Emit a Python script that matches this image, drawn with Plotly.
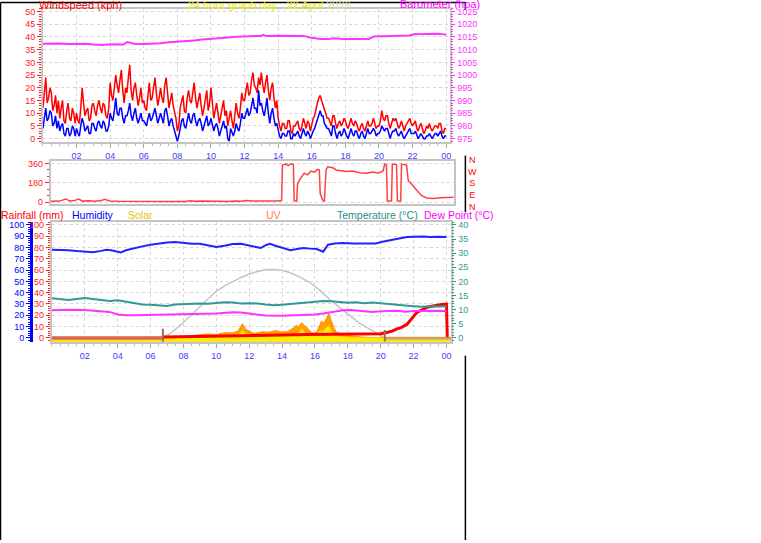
import plotly.graph_objects as go

W, H = 761, 543


def px(x):
    return x / W


def py(y):
    return 1 - y / H


# ---------------- data ----------------
hour_ticks = [2, 4, 6, 8, 10, 12, 14, 16, 18, 20, 22, 24]
hour_labels = ["02", "04", "06", "08", "10", "12", "14", "16", "18", "20", "22", "00"]

# wind speed, 5-minute samples (kph), one row per hour
gust_kph = [
    12, 18, 24, 14, 16, 20, 18, 11, 13, 17, 10, 15,
    8, 12, 15, 7, 6, 11, 14, 8, 7, 12, 10, 6,
    10, 7, 6, 12, 20, 14, 9, 11, 12, 7, 8, 13,
    14, 11, 9, 13, 15, 12, 10, 14, 13, 9, 8, 12,
    22, 17, 15, 20, 25, 21, 18, 23, 27, 19, 14, 20,
    18, 24, 29, 19, 15, 20, 22, 17, 13, 16, 20, 14,
    15, 12, 11, 17, 22, 15, 16, 20, 24, 18, 13, 16,
    20, 16, 14, 21, 24, 18, 12, 15, 18, 13, 10, 8,
    3, 5, 12, 15, 17, 11, 10, 16, 19, 15, 14, 18,
    22, 16, 12, 15, 18, 13, 9, 12, 15, 19, 11, 14,
    20, 14, 8, 11, 14, 10, 6, 9, 12, 15, 9, 11,
    5, 8, 11, 7, 4, 9, 14, 10, 8, 12, 18, 15,
    15, 19, 22, 17, 18, 23, 26, 21, 20, 18, 24, 21,
    26, 21, 18, 22, 25, 19, 15, 20, 22, 16, 12, 15,
    8, 5, 3, 6, 6, 4, 4, 7, 7, 3, 2, 5,
    5, 6, 7, 4, 3, 5, 8, 6, 4, 7, 6, 3,
    6, 8, 9, 12, 14, 16, 17, 15, 13, 11, 10, 8,
    8, 6, 5, 9, 9, 6, 4, 6, 7, 5, 6, 8,
    7, 5, 4, 6, 8, 6, 5, 7, 6, 4, 3, 5,
    6, 4, 3, 5, 7, 5, 5, 6, 8, 6, 4, 5,
    5, 7, 11, 8, 7, 9, 9, 6, 4, 6, 8, 7,
    8, 6, 4, 5, 7, 5, 3, 5, 6, 7, 8, 6,
    5, 6, 7, 4, 3, 5, 6, 4, 2, 3, 5, 4,
    6, 4, 3, 4, 5, 5, 4, 6, 6, 3, 2, 4,
    4,
]
avg_kph = [
    4, 8, 12, 7, 8, 11, 10, 5, 6, 9, 4, 7,
    3, 5, 6, 2, 1, 4, 4, 1, 2, 5, 4, 1,
    4, 2, 1, 5, 8, 6, 3, 4, 5, 2, 2, 6,
    6, 4, 3, 6, 7, 5, 4, 7, 6, 3, 3, 5,
    10, 8, 7, 11, 16, 10, 9, 12, 12, 8, 6, 9,
    9, 11, 14, 9, 7, 10, 12, 8, 6, 8, 10, 7,
    7, 6, 5, 8, 10, 7, 8, 10, 12, 9, 6, 8,
    10, 8, 6, 11, 12, 9, 5, 7, 8, 5, 3, 2,
    -1, 1, 5, 7, 8, 5, 4, 8, 10, 7, 6, 9,
    10, 7, 5, 7, 8, 6, 3, 5, 7, 9, 5, 6,
    8, 6, 3, 5, 6, 4, 1, 3, 5, 7, 4, 5,
    0, -1, 4, 2, 1, 3, 6, 4, 3, 6, 10, 8,
    8, 10, 12, 9, 10, 13, 16, 12, 12, 10, 19, 13,
    14, 11, 9, 12, 16, 10, 6, 10, 12, 8, 5, 6,
    3, 1, 0, 2, 2, 1, 1, 3, 3, 0, 0, 2,
    1, 2, 3, 1, 0, 2, 4, 2, 1, 3, 2, 0,
    2, 3, 4, 6, 8, 10, 11, 9, 9, 6, 5, 4,
    4, 2, 1, 5, 5, 2, 0, 2, 3, 1, 2, 4,
    2, 1, 0, 2, 4, 2, 1, 3, 3, 1, 0, 2,
    3, 1, 0, 2, 4, 2, 2, 3, 4, 3, 1, 2,
    2, 3, 5, 4, 3, 4, 4, 2, 0, 2, 3, 3,
    4, 2, 1, 2, 3, 1, 0, 1, 2, 3, 4, 2,
    2, 2, 3, 1, 0, 1, 2, 1, 0, 0, 1, 1,
    2, 1, 0, 1, 2, 2, 1, 2, 3, 1, 0, 1,
    1,
]
wind_hours = [i / 12 for i in range(len(gust_kph))]

baro_hours = [0, 0.5, 1, 1.5, 2, 2.5, 3, 3.5, 4, 4.5, 4.8, 5.0, 5.3, 5.5, 6, 6.5, 7, 7.5,
              8, 8.5, 9, 9.5, 10, 10.5, 11, 11.5, 12, 12.5, 13, 13.1, 13.3, 14, 15, 15.5,
              15.9, 16.5, 17.0, 17.4, 17.8, 18.5, 19.4, 19.7, 20.5, 21.8, 22.1, 22.7,
              23.5, 24.0]
baro_hpa = [1012.3, 1012.4, 1012.4, 1012.2, 1012.3, 1012.3, 1012.0, 1011.8, 1012.1,
            1012.1, 1012.0, 1013.0, 1012.4, 1012.2, 1012.2, 1012.3, 1012.5, 1012.9,
            1013.1, 1013.4, 1013.6, 1014.0, 1014.2, 1014.5, 1014.8, 1015.1, 1015.2,
            1015.3, 1015.4, 1015.8, 1015.4, 1015.5, 1015.5, 1015.4, 1014.8, 1014.2,
            1014.2, 1014.5, 1014.2, 1014.2, 1014.2, 1015.2, 1015.4, 1015.6, 1016.0,
            1016.2, 1016.2, 1015.9]

dir_hours = [0, 0.5, 0.9, 1.1, 1.4, 1.65, 1.9, 2.3, 2.6, 3.0, 3.2, 3.5, 4, 5, 6, 7, 8, 8.3,
             8.6, 9, 9.5, 10, 10.5, 11, 11.3, 11.7, 12, 12.5, 13, 13.5, 13.75, 13.8, 14.0,
             14.15, 14.3, 14.45, 14.5, 14.65, 14.7, 14.85, 15.1, 15.3, 15.5, 15.7, 15.9,
             16.0, 16.05, 16.2, 16.3, 16.4, 16.5, 16.8, 17.0, 17.3, 17.6, 18.0, 18.4, 18.8,
             19.2, 19.5, 19.8, 19.9, 20.0, 20.05, 20.3, 20.35, 20.6, 20.65, 20.85, 20.9,
             21.2, 21.3, 21.5, 21.7, 21.9, 22.1, 22.4, 22.8, 23.2, 23.6, 24.0]
dir_deg = [8, 10, 30, 12, 15, 30, 10, 14, 8, 15, 28, 12, 8, 6, 6, 5, 6, 14,
           8, 10, 6, 9, 6, 12, 8, 15, 10, 8, 7, 10, 15, 345, 355,
           340, 358, 350, 12, 10, 170, 215, 270, 255, 290, 280, 305,
           300, 80, 18, 10, 300, 330, 320, 300, 295, 285, 290, 275, 270,
           280, 270, 290, 355, 350, 10, 10, 355, 350, 10, 10, 355,
           345, 200, 170, 130, 90, 60, 40, 35, 42, 45, 45]
dir_letters = ["N", "W", "S", "E", "N"]

hum_hours = [0, 0.5, 1, 1.5, 2, 2.5, 3, 3.3, 3.6, 4, 4.2, 4.5, 5, 5.5, 6, 6.5, 7, 7.5, 8,
             8.5, 9, 9.5, 10, 10.5, 11, 11.5, 12, 12.5, 12.7, 13, 13.25, 13.6, 14, 14.5,
             15, 15.3, 15.7, 16.1, 16.5, 16.8, 17.2, 17.7, 18.3, 18.9, 19.3, 19.7, 20.1,
             20.5, 21, 21.6, 22, 22.6, 23, 23.5, 24]
hum_pct = [78, 78, 77.5, 76.8, 76.5, 75.8, 77, 78, 77.5, 76, 75.7, 77.5, 79.5, 81, 82.5,
           83.5, 84.5, 84.8, 83.8, 83.3, 83.3, 82, 80.4, 81.5, 83, 83.2, 81.6, 80.5, 79.5,
           82, 83.3, 81.5, 80, 77.5, 78.8, 79.5, 79, 78.7, 76.3, 82.5, 83.5, 84, 83.5,
           83.3, 83.5, 83.5, 85, 86.3, 87.5, 89.2, 89.5, 89.8, 89.2, 89.6, 89.2]

temp_hours = [0, 0.5, 1, 1.5, 2, 2.5, 3, 3.5, 4, 4.5, 5, 5.5, 6, 6.5, 7, 7.5, 8, 8.5, 9,
              9.5, 10, 10.5, 11, 11.5, 12, 12.5, 13, 13.5, 14, 14.5, 15, 15.5, 16, 16.5,
              17, 17.5, 18, 18.5, 19, 19.5, 20, 20.5, 21, 21.5, 22, 22.5, 23, 23.5, 24]
temp_c = [14.0, 13.6, 13.4, 13.8, 14.1, 13.8, 13.5, 13.1, 13.3, 12.8, 12.3, 11.8, 11.7,
          11.6, 11.3, 11.8, 12.0, 12.1, 12.2, 12.1, 12.3, 12.6, 12.5, 12.2, 12.3, 12.2,
          11.8, 11.6, 11.7, 12.0, 12.2, 12.4, 12.8, 13.1, 13.0, 12.6, 12.4, 12.6, 12.3,
          12.5, 12.2, 11.9, 11.6, 11.5, 11.2, 11.0, 11.2, 11.1, 11.2]

dew_hours = [0, 1, 2, 3, 3.5, 4, 4.5, 5, 6, 6.5, 7, 8, 9, 10, 11, 11.5, 12, 12.5, 13, 14,
             14.5, 15, 15.5, 16, 16.5, 17, 17.7, 18.2, 19, 19.5, 20, 21, 21.5, 22, 23, 24]
dew_c = [9.8, 10.0, 9.9, 9.5, 9.2, 8.3, 8.0, 8.0, 8.1, 8.4, 8.4, 8.5, 8.6, 8.6, 9.1, 9.0,
         8.6, 8.2, 7.9, 7.8, 7.9, 8.0, 8.3, 8.3, 8.6, 9.0, 9.8, 9.9, 9.4, 9.2, 9.4, 9.6,
         9.3, 9.5, 9.6, 9.5]

rain_hours = [0, 6.75, 6.8, 8, 9, 10, 11, 12, 14, 15.5, 17, 19, 20, 20.3, 20.7, 21, 21.3,
              21.6, 21.8, 22.0, 22.2, 22.5, 22.8, 23.1, 23.4, 23.7, 24, 24.05]
rain_mm = [0, 0, 0.8, 1.0, 1.5, 1.8, 2.0, 2.0, 2.5, 3.0, 3.3, 3.5, 3.6, 4.5, 6, 8, 9.5,
           12, 16, 19, 22.5, 25, 27, 28, 29, 29.5, 29.8, 0]

solar_max_hours = [6.75, 7.2, 7.8, 8.3, 8.6, 9.0, 9.5, 10.0, 10.5, 11.0, 11.5, 12.0, 12.5,
                   13.0, 13.4, 14.0, 14.5, 15.0, 15.7, 16.3, 16.9, 17.5, 18.1, 18.7,
                   19.3, 19.8, 20.25]
solar_max = [0, 4, 11, 18, 22, 27, 34, 41.5, 46, 50, 53.5, 56.5, 58.8, 60.2, 60.5, 59.8,
             57.6, 54.5, 49, 42, 34, 27, 19.6, 13, 7.9, 3.5, 0]

solar_hours = [0, 6.75, 7, 8, 9, 9.5, 10, 10.5, 11, 11.3, 11.45, 11.6, 11.75, 12, 12.2,
               12.4, 12.8, 13.2, 13.6, 14, 14.4, 14.7, 14.85, 15.0, 15.2, 15.35, 15.5,
               15.7, 15.9, 16.1, 16.25, 16.4, 16.55, 16.7, 16.85, 17.0, 17.15, 17.3, 17.6,
               17.9, 18.5, 18.9, 20.1, 24.3]
solar_val = [0, 0, 0.5, 1.2, 2.5, 3.5, 3, 4.5, 4.5, 6, 9, 12.5, 8, 6, 4.5, 4, 5.5, 5, 6.5,
             5, 6, 9, 11, 10, 13.5, 11, 9.5, 6, 4, 5, 10, 15, 13, 17, 21.6, 15, 9, 5, 3.5,
             2.5, 1.2, 0.6, 0, 0]

uv_hours = [0, 6.75, 8, 10, 11, 11.3, 11.5, 11.6, 11.8, 12.2, 12.5, 13.5, 14.5, 15,
            15.2, 15.4, 16, 16.3, 16.5, 16.7, 16.85, 17, 17.3, 18, 19, 20, 24.3]
uv_val = [0, 0, 0.3, 1, 1.5, 2.5, 4.5, 6, 3.5, 2.5, 2, 2.5, 2.5, 4.5, 8, 4.5, 2, 6.5, 6,
          9, 10.8, 6, 2, 0.6, 0.2, 0, 0]

sun_events = [6.75, 20.25]

# ---------------- styles ----------------
FONT = "Liberation Sans"
GRID = "#d6d6d6"
FRAME = "#c4c4c4"
XLAB = "#3c3cff"
RED = "#ff0000"
MAG = "#ff33ff"
TEAL = "#2f9a94"
BLUE = "#0000ff"

fig = go.Figure()

# ---------- panel 1: wind + barometer ----------
fig.add_trace(go.Scatter(x=wind_hours, y=gust_kph, mode="lines",
                         line=dict(color=RED, width=1.5), xaxis="x", yaxis="y"))
fig.add_trace(go.Scatter(x=wind_hours, y=avg_kph, mode="lines",
                         line=dict(color=BLUE, width=1.5), xaxis="x", yaxis="y"))
fig.add_trace(go.Scatter(x=baro_hours, y=baro_hpa, mode="lines",
                         line=dict(color=MAG, width=2), xaxis="x", yaxis="y2"))

# ---------- panel 2: wind direction ----------
fig.add_trace(go.Scatter(x=dir_hours, y=dir_deg, mode="lines",
                         line=dict(color="#ff4040", width=1.5), xaxis="x2", yaxis="y3"))

# ---------- panel 3 ----------
base = -3.5
fig.add_trace(go.Scatter(x=solar_max_hours, y=solar_max, mode="lines",
                         line=dict(color="#c4c4c4", width=1.5), xaxis="x3", yaxis="y4"))
fig.add_trace(go.Scatter(x=[0, 24.3], y=[base, base], mode="lines",
                         line=dict(width=0), xaxis="x3", yaxis="y4"))
fig.add_trace(go.Scatter(x=solar_hours, y=solar_val, mode="lines", fill="tonexty",
                         fillcolor="#ffa200", line=dict(color="#ff8c00", width=1),
                         xaxis="x3", yaxis="y4"))
fig.add_trace(go.Scatter(x=[0, 24.3], y=[base, base], mode="lines",
                         line=dict(width=0), xaxis="x3", yaxis="y4"))
fig.add_trace(go.Scatter(x=uv_hours, y=uv_val, mode="lines", fill="tonexty",
                         fillcolor="#ffee00", line=dict(color="#ffd000", width=1),
                         xaxis="x3", yaxis="y4"))
fig.add_trace(go.Scatter(x=hum_hours, y=hum_pct, mode="lines",
                         line=dict(color="#2222ff", width=2), xaxis="x3", yaxis="y5"))
fig.add_trace(go.Scatter(x=temp_hours, y=temp_c, mode="lines",
                         line=dict(color=TEAL, width=2), xaxis="x3", yaxis="y6"))
fig.add_trace(go.Scatter(x=dew_hours, y=dew_c, mode="lines",
                         line=dict(color="#ff33ff", width=2), xaxis="x3", yaxis="y6"))
fig.add_trace(go.Scatter(x=rain_hours, y=rain_mm, mode="lines",
                         line=dict(color=RED, width=3), xaxis="x3", yaxis="y4"))
# night band + sunrise/sunset markers
fig.add_trace(go.Scatter(x=[0, sun_events[0], None, sun_events[1], 24.3],
                         y=[-0.4, -0.4, None, -0.4, -0.4], mode="lines",
                         line=dict(color="#c09070", width=3), opacity=0.75,
                         xaxis="x3", yaxis="y4"))
fig.add_trace(go.Scatter(x=[sun_events[0], sun_events[0], None, sun_events[1], sun_events[1]],
                         y=[base, 8, None, base, 7], mode="lines",
                         line=dict(color="#a07048", width=2), xaxis="x3", yaxis="y4"))


def xaxis_style(domain, rng, anchor, labels=True):
    d = dict(domain=domain, range=rng, anchor=anchor, showline=True, linecolor=FRAME,
             linewidth=2, mirror=True, zeroline=False, showgrid=True, gridcolor=GRID,
             griddash="dot", gridwidth=1, tickmode="array", tickvals=hour_ticks,
             ticktext=hour_labels, tickfont=dict(family=FONT, size=9, color=XLAB),
             showticklabels=labels)
    if labels:
        d.update(ticks="outside", ticklen=4, tickcolor="#a8a8a8",
                 minor=dict(tickmode="linear", tick0=0, dtick=0.5, ticks="outside",
                            ticklen=2, tickcolor="#b8b8b8", showgrid=False))
    else:
        d.update(ticks="", showgrid=False)
    return d


def yaxis_style(domain, rng, anchor, vals, color, minor_dtick, side="left", grid=True,
                line=True):
    return dict(domain=domain, range=rng, anchor=anchor, side=side, showline=line,
                linecolor=FRAME, linewidth=2, mirror=line, zeroline=False,
                showgrid=grid, gridcolor=GRID, griddash="dot", gridwidth=1,
                tickmode="array", tickvals=vals, ticks="outside", ticklen=4,
                tickcolor=color, tickfont=dict(family=FONT, size=9, color=color),
                minor=dict(tickmode="linear", tick0=0, dtick=minor_dtick, ticks="outside",
                           ticklen=2, tickcolor=color, showgrid=False))


p1_dom_y = [py(141), py(7)]
p2_dom_y = [py(204), py(160)]
p3_dom_y = [py(343), py(222)]

y_p3 = yaxis_style(p3_dom_y, [-3.5, 102.6], "x3", list(range(0, 101, 10)), "#ff2020", 2)
y_hum = dict(overlaying="y4", anchor="free", position=px(31), side="left",
             range=[-3.5, 102.6], showline=True, linecolor=BLUE, linewidth=3,
             showgrid=False, zeroline=False, tickmode="array",
             tickvals=list(range(0, 101, 10)), ticks="outside", ticklen=4,
             tickcolor=BLUE, tickfont=dict(family=FONT, size=9, color=BLUE),
             minor=dict(tickmode="linear", tick0=0, dtick=2, ticks="outside", ticklen=2,
                        tickcolor=BLUE))
y_temp = dict(overlaying="y4", anchor="x3", side="right", range=[-1.4, 41.05],
              showline=False, showgrid=False, zeroline=False, tickmode="array",
              tickvals=list(range(0, 41, 5)), ticks="outside", ticklen=4,
              tickcolor=TEAL, tickfont=dict(family=FONT, size=9, color=TEAL),
              minor=dict(tickmode="linear", tick0=0, dtick=1, ticks="outside", ticklen=2,
                         tickcolor=TEAL))
y_baro = dict(overlaying="y", anchor="x", side="right", range=[973.8, 1026],
              showline=False, showgrid=False, zeroline=False, tickmode="array",
              tickvals=list(range(975, 1026, 5)), ticks="outside", ticklen=4,
              tickcolor=MAG, tickfont=dict(family=FONT, size=9, color=MAG),
              minor=dict(tickmode="linear", tick0=975, dtick=1, ticks="outside",
                         ticklen=2, tickcolor=MAG))

fig.update_layout(
    width=W, height=H, autosize=False, showlegend=False,
    margin=dict(l=0, r=0, t=0, b=0),
    paper_bgcolor="white", plot_bgcolor="white",
    font=dict(family=FONT, size=9),
    xaxis=xaxis_style([px(43), px(451)], [0, 24.25], "y"),
    yaxis=yaxis_style(p1_dom_y, [-1.2, 51], "x", list(range(0, 51, 5)), "#ff2020", 1),
    yaxis2=y_baro,
    xaxis2=xaxis_style([px(51), px(455)], [0, 24.05], "y3", labels=False),
    yaxis3=yaxis_style(p2_dom_y, [-18, 388], "x2", [0, 180, 360], "#ff2020", 60),
    xaxis3=xaxis_style([px(52), px(452)], [0, 24.3], "y4"),
    yaxis4=y_p3,
    yaxis5=y_hum,
    yaxis6=y_temp,
)


# ---------- header texts ----------
def label(text, x, y, color, size=11, anchor="left"):
    fig.add_annotation(text=text, x=px(x), y=py(y), xref="paper", yref="paper",
                       xanchor=anchor, yanchor="middle", showarrow=False,
                       font=dict(family=FONT, size=size, color=color))


label("Windspeed (kph)", 37, 3, RED)
label("24 hour graph day : 22 April <span style='color:#dcdc9a'>2026</span>", 186, 3,
      "#eaea00")
label("Barometer (hpa)", 399, 2.5, "#ff00ff")

label("Rainfall (mm)", -1, 214.5, RED, size=10.5)
label("Humidity", 70, 214.5, BLUE, size=10.5)
label("Solar", 126, 214.5, "#e8c000", size=10.5)
label("UV", 264, 214.5, "#ff8040", size=10.5)
label("Temperature (°C)", 335, 214.5, "#1f8f87", size=10.5)
label("Dew Point (°C)", 423, 214.5, "#ff00ff", size=10.5)

# compass letters as a single stacked text block
fig.add_annotation(text="<br>".join(dir_letters), x=px(473), y=py(183.5), xref="paper",
                   yref="paper", xanchor="center", yanchor="middle", showarrow=False,
                   borderpad=0, font=dict(family=FONT, size=9, color=RED))

# ---------- outer black frame ----------
frame_segments = [
    (0.5, 0.5, 466, 0.5),
    (0.5, 0.5, 0.5, 543),
    (466, 0, 466, 8),
    (466, 155, 466, 212),
    (466, 357, 466, 543),
]
for x0, y0, x1, y1 in frame_segments:
    fig.add_shape(type="line", xref="paper", yref="paper", x0=px(x0), y0=py(y0),
                  x1=px(x1), y1=py(y1), line=dict(color="black", width=1.5))

fig.write_html(
    "out.html",
    config={"displayModeBar": False, "staticPlot": True},
    post_script="document.body.style.margin='0';document.body.style.overflow='hidden';",
)
